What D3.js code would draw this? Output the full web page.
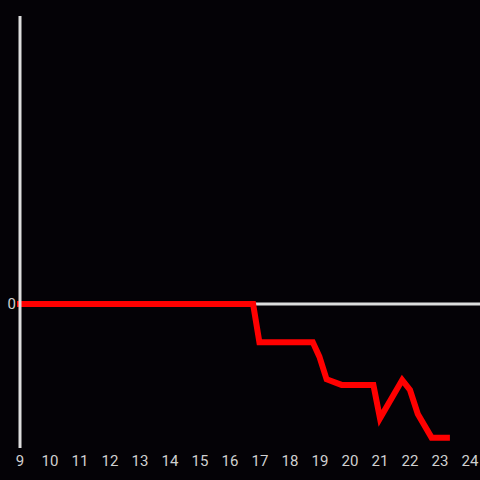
<!DOCTYPE html>
<html>
<head>
<meta charset="utf-8">
<script src="https://cdn.jsdelivr.net/npm/d3@7"></script>
<style>
  html, body { margin: 0; padding: 0; background: #040206; }
  svg { display: block; }
</style>
</head>
<body>
<div id="chart"></div>
<script>
// Series data (hour of day vs. value)
const hours = [8.9, 16.77, 16.98, 18.76, 18.98, 19.22, 19.72, 20.78, 21.0, 21.74, 22.0, 22.26, 22.72, 23.33];
const values = [0, 0, -0.266, -0.266, -0.366, -0.523, -0.562, -0.562, -0.794, -0.528, -0.597, -0.764, -0.928, -0.928];
const xTicks = [9, 10, 11, 12, 13, 14, 15, 16, 17, 18, 19, 20, 21, 22, 23, 24];
const yTicks = [0];

const width = 480,
    height = 480;

const x = d3.scaleLinear().domain([9, 24]).range([20, 470]);
const y = d3.scaleLinear().domain([-1, 2]).range([448, 16]);

const svg = d3
    .select('#chart')
    .append('svg')
    .attr('width', width)
    .attr('height', height);

svg.append('rect')
    .attr('width', width)
    .attr('height', height)
    .attr('fill', '#040206');

// zero line
svg.append('line')
    .attr('x1', x(9))
    .attr('x2', width)
    .attr('y1', y(0))
    .attr('y2', y(0))
    .attr('stroke', '#dddddd')
    .attr('stroke-width', 3);

// red series
const pts = hours.map((h, i) => [h, values[i]]);
svg.append('path')
    .datum(pts)
    .attr('fill', 'none')
    .attr('stroke', '#ff0000')
    .attr('stroke-width', 6)
    .attr('d', d3.line().x((d) => x(d[0])).y((d) => y(d[1])));

// y axis line
svg.append('line')
    .attr('x1', x(9))
    .attr('x2', x(9))
    .attr('y1', y(2))
    .attr('y2', y(-1))
    .attr('stroke', '#dddddd')
    .attr('stroke-width', 3);

// tick labels
svg.selectAll('text.xt')
    .data(xTicks)
    .enter()
    .append('text')
    .attr('class', 'xt')
    .attr('x', (d) => x(d))
    .attr('y', 461)
    .attr('dy', '0.35em')
    .attr('text-anchor', 'middle')
    .attr('fill', '#d0d0d0')
    .attr('font-family', 'Roboto, sans-serif')
    .attr('font-size', 15)
    .text((d) => d);

svg.selectAll('text.yt')
    .data(yTicks)
    .enter()
    .append('text')
    .attr('class', 'yt')
    .attr('x', 16)
    .attr('y', (d) => y(d))
    .attr('dy', '0.35em')
    .attr('text-anchor', 'end')
    .attr('fill', '#d0d0d0')
    .attr('font-family', 'Roboto, sans-serif')
    .attr('font-size', 15)
    .text((d) => d);
</script>
</body>
</html>
